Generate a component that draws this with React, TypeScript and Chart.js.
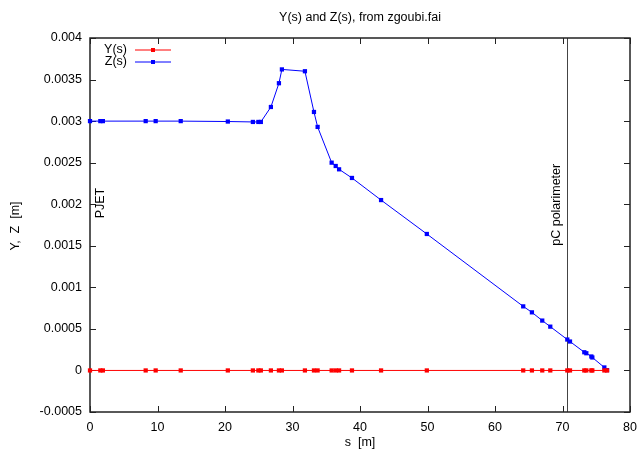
import { useEffect, useRef } from "react";
import { Chart, registerables } from "chart.js";

Chart.register(...registerables);

const TITLE = "Y(s) and Z(s), from zgoubi.fai";
const X_LABEL = "s  [m]";
const Y_LABEL = "Y,  Z  [m]";

// Longitudinal positions of the recorded points [m]
const sPositions = [
  0, 1.53, 1.91, 8.25, 9.73, 13.44, 20.42, 24.13, 24.94, 25.31, 26.8, 27.99,
  28.43, 31.84, 33.18, 33.72, 35.8, 36.4, 36.9, 38.81, 43.12, 49.9, 64.18,
  65.47, 67.0, 68.19, 70.71, 71.11, 73.23, 73.53, 74.27, 74.42, 76.2, 76.6,
];

// Horizontal position Y(s) [m]
const yValues = [
  0, 0, 0, 0, 0, 0, 0, 0, 0, 0, 0, 0, 0, 0, 0, 0, 0, 0, 0, 0, 0, 0, 0, 0, 0,
  0, 0, 0, 0, 0, 0, 0, 0, 0,
];

// Vertical position Z(s) [m]
const zValues = [
  0.003, 0.003, 0.003, 0.003, 0.003, 0.003, 0.002995, 0.00299, 0.00299,
  0.00299, 0.00317, 0.003456, 0.003622, 0.0036, 0.00311, 0.00293, 0.0025,
  0.00246, 0.00242, 0.002316, 0.00205, 0.001642, 0.000771, 0.000699, 0.0006,
  0.000527, 0.000372, 0.000348, 0.000219, 0.000207, 0.000168, 0.000156,
  0.000036, 0.000004,
];

const seriesNames = ["Y(s)", "Z(s)"];
const seriesColors = ["#ff0000", "#0000ff"];

const xRange = { min: 0, max: 80, step: 10 };
const yRange = { min: -0.0005, max: 0.004, step: 0.0005 };

// Element markers: name, s position of the marker line (null = label only), label anchor
const elementLabels = [
  { text: "PJET", line: null as number | null, s: 1.5, v: 0.00183 },
  { text: "pC polarimeter", line: 70.7 as number | null, s: 69.15, v: 0.0015 },
];

const FONT = '"Liberation Sans", Arial, Helvetica, sans-serif';
const FONT_SIZE = 12.5;

const framePlugin = {
  id: "gnuplotFrame",
  beforeDatasetsDraw(chart: any) {
    const { ctx, chartArea } = chart;
    const { left, right, top, bottom } = chartArea;
    const xs = chart.scales.x;
    const ys = chart.scales.y;
    ctx.save();

    // element marker lines
    ctx.strokeStyle = "#444";
    ctx.lineWidth = 1;
    for (const el of elementLabels) {
      if (el.line === null) continue;
      const px = Math.round(xs.getPixelForValue(el.line)) + 0.5;
      ctx.beginPath();
      ctx.moveTo(px, top);
      ctx.lineTo(px, bottom);
      ctx.stroke();
    }

    // border
    ctx.strokeStyle = "#222";
    ctx.lineWidth = 1.5;
    ctx.strokeRect(left, top, right - left, bottom - top);

    // inward ticks on all four sides
    const tl = 6;
    ctx.lineWidth = 1;
    ctx.beginPath();
    for (const t of xs.ticks) {
      const px = Math.round(xs.getPixelForValue(t.value)) + 0.5;
      ctx.moveTo(px, bottom);
      ctx.lineTo(px, bottom - tl);
      ctx.moveTo(px, top);
      ctx.lineTo(px, top + tl);
    }
    for (const t of ys.ticks) {
      const py = Math.round(ys.getPixelForValue(t.value)) + 0.5;
      ctx.moveTo(left, py);
      ctx.lineTo(left + tl, py);
      ctx.moveTo(right, py);
      ctx.lineTo(right - tl, py);
    }
    ctx.stroke();
    ctx.restore();
  },
  afterDraw(chart: any) {
    const { ctx, chartArea } = chart;
    const xs = chart.scales.x;
    const ys = chart.scales.y;
    ctx.save();
    ctx.fillStyle = "#000";
    ctx.font = `${FONT_SIZE}px ${FONT}`;

    // title
    ctx.textAlign = "center";
    ctx.textBaseline = "middle";
    ctx.fillText(TITLE, (chartArea.left + chartArea.right) / 2, 18);

    // axis titles
    ctx.fillText(X_LABEL, (chartArea.left + chartArea.right) / 2, 443);
    ctx.save();
    ctx.translate(16, 226);
    ctx.rotate(-Math.PI / 2);
    ctx.fillText(Y_LABEL, 0, 0);
    ctx.restore();

    // rotated element labels
    for (const el of elementLabels) {
      ctx.save();
      ctx.translate(xs.getPixelForValue(el.s), ys.getPixelForValue(el.v));
      ctx.rotate(-Math.PI / 2);
      ctx.textAlign = "left";
      ctx.textBaseline = "middle";
      ctx.fillText(el.text, 0, 0);
      ctx.restore();
    }

    // key
    const keyTextX = 127;
    const keyLineX0 = 135;
    const keyLineX1 = 171;
    const keyRows = [50, 62];
    seriesNames.forEach((name, i) => {
      const y = keyRows[i];
      ctx.textAlign = "right";
      ctx.textBaseline = "middle";
      ctx.fillStyle = "#000";
      ctx.fillText(name, keyTextX, y);
      ctx.strokeStyle = seriesColors[i];
      ctx.lineWidth = 1;
      ctx.beginPath();
      ctx.moveTo(keyLineX0, y);
      ctx.lineTo(keyLineX1, y);
      ctx.stroke();
      ctx.fillStyle = seriesColors[i];
      const mx = (keyLineX0 + keyLineX1) / 2;
      ctx.fillRect(mx - 2, y - 2, 4, 4);
    });
    ctx.restore();
  },
};

const fmtTick = (v: number | string) => {
  const n = Number(v);
  return String(Number(n.toFixed(6)));
};

export default function App() {
  const canvasRef = useRef<HTMLCanvasElement | null>(null);

  useEffect(() => {
    if (!canvasRef.current) return;
    Chart.defaults.font.family = FONT;
    const mk = (vals: number[]) => sPositions.map((s, i) => ({ x: s, y: vals[i] }));
    const chart = new Chart(canvasRef.current, {
      type: "line",
      data: {
        datasets: [
          {
            label: seriesNames[0],
            data: mk(yValues),
            borderColor: seriesColors[0],
            backgroundColor: seriesColors[0],
            borderWidth: 1,
            pointStyle: "rect",
            pointRadius: 3,
            pointBorderWidth: 0,
            pointHoverRadius: 3,
            tension: 0,
            clip: false as any,
          },
          {
            label: seriesNames[1],
            data: mk(zValues),
            borderColor: seriesColors[1],
            backgroundColor: seriesColors[1],
            borderWidth: 1,
            pointStyle: "rect",
            pointRadius: 3,
            pointBorderWidth: 0,
            pointHoverRadius: 3,
            tension: 0,
            clip: false as any,
          },
        ],
      },
      options: {
        animation: false,
        responsive: false,
        maintainAspectRatio: false,
        layout: { padding: { left: 0, top: 38, right: 9, bottom: 0 } },
        plugins: {
          legend: { display: false },
          title: { display: false },
          tooltip: { enabled: false },
        },
        events: [],
        scales: {
          x: {
            type: "linear",
            min: xRange.min,
            max: xRange.max,
            afterFit: (scale: any) => {
              scale.height = 37;
              scale.paddingLeft = 0;
              scale.paddingRight = 0;
            },
            ticks: {
              stepSize: xRange.step,
              color: "#000",
              font: { size: FONT_SIZE, family: FONT },
              padding: 8,
              maxRotation: 0,
              callback: (v: any) => fmtTick(v),
            },
            grid: { display: false, drawTicks: false },
            border: { display: false },
          },
          y: {
            type: "linear",
            min: yRange.min,
            max: yRange.max,
            afterFit: (scale: any) => {
              scale.width = 90;
              scale.paddingTop = 0;
              scale.paddingBottom = 0;
            },
            ticks: {
              stepSize: yRange.step,
              color: "#000",
              font: { size: FONT_SIZE, family: FONT },
              padding: 8,
              callback: (v: any) => fmtTick(v),
            },
            grid: { display: false, drawTicks: false },
            border: { display: false },
          },
        },
      },
      plugins: [framePlugin],
    });
    return () => chart.destroy();
  }, []);

  return (
    <div style={{ position: "absolute", left: 0, top: 0, width: 639, height: 449, background: "#fff" }}>
      <canvas ref={canvasRef} width={639} height={449} style={{ display: "block", width: 639, height: 449 }} />
    </div>
  );
}
